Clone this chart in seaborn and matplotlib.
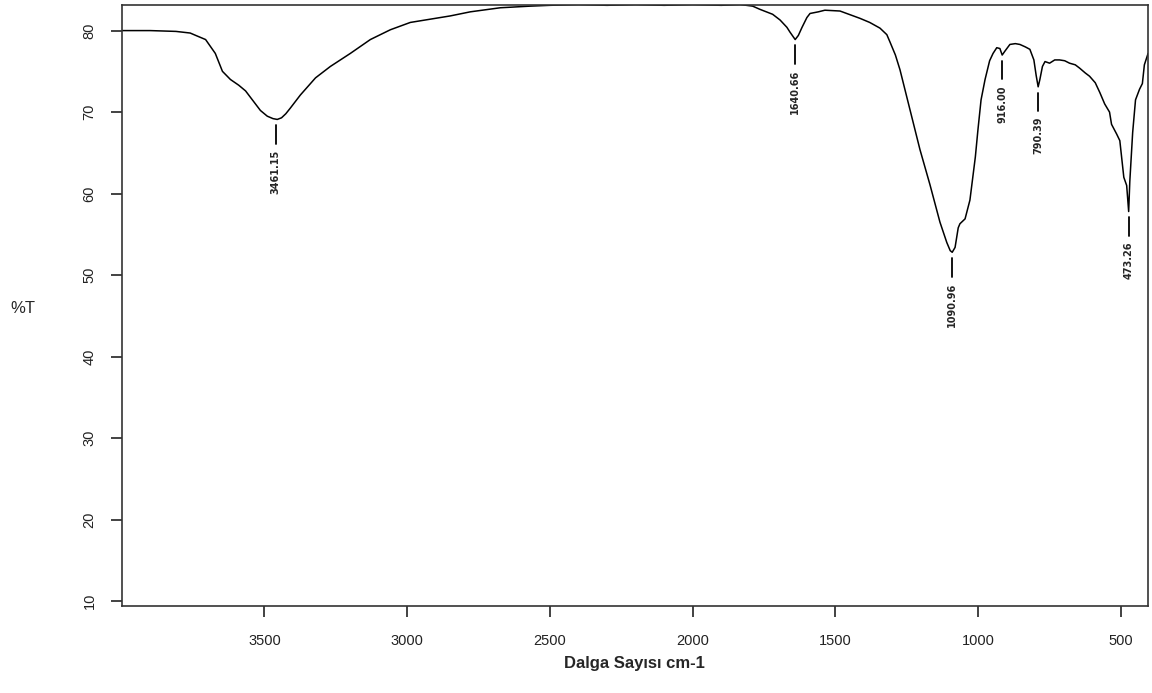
import matplotlib
matplotlib.use("Agg")
import matplotlib.pyplot as plt
import seaborn as sns
import pandas as pd

# FTIR spectrum: wavenumber (cm-1) and transmittance (%T)
wavenumber = [4000, 3900, 3810, 3760, 3740, 3706, 3672, 3647, 3619, 3590, 3566,
              3540, 3514, 3490, 3470, 3455, 3440, 3425, 3409, 3374, 3321, 3269,
              3199, 3129, 3059, 2989, 2919, 2849, 2779, 2674, 2569, 2500, 2400,
              2300, 2200, 2100, 2000, 1900, 1834, 1790, 1764, 1720, 1694, 1670,
              1659, 1641, 1630, 1617, 1600, 1589, 1560, 1537, 1484, 1414, 1380,
              1344, 1320, 1309, 1290, 1274, 1239, 1204, 1169, 1134, 1110, 1098,
              1091, 1081, 1070, 1064, 1046, 1029, 1010, 1001, 990, 976, 960, 948,
              935, 924, 916, 906, 889, 870, 854, 835, 819, 805, 797, 790, 784,
              775, 766, 750, 732, 715, 697, 680, 660, 645, 625, 610, 590, 574,
              557, 540, 533, 515, 504, 490, 480, 473, 469, 459, 449, 435, 425,
              418, 405]
transmittance = [80.0, 80.0, 79.9, 79.7, 79.4, 78.9, 77.2, 75.0, 74.0, 73.3, 72.6,
                 71.4, 70.2, 69.5, 69.2, 69.1, 69.3, 69.8, 70.5, 72.1, 74.2, 75.6,
                 77.2, 78.9, 80.1, 81.0, 81.4, 81.8, 82.3, 82.8, 83.0, 83.1, 83.2,
                 83.1, 83.2, 83.1, 83.2, 83.1, 83.2, 83.0, 82.6, 82.0, 81.3, 80.4,
                 79.8, 78.9, 79.4, 80.4, 81.6, 82.1, 82.3, 82.5, 82.4, 81.5, 81.0,
                 80.3, 79.5, 78.6, 77.0, 75.2, 70.3, 65.4, 61.1, 56.5, 54.0, 53.0,
                 52.8, 53.4, 55.8, 56.3, 56.9, 59.2, 64.5, 67.8, 71.5, 74.0, 76.3,
                 77.2, 77.9, 77.8, 77.0, 77.5, 78.3, 78.4, 78.3, 78.0, 77.7, 76.4,
                 74.5, 73.1, 74.0, 75.6, 76.2, 76.0, 76.4, 76.4, 76.3, 76.0, 75.8,
                 75.4, 74.8, 74.4, 73.6, 72.4, 71.0, 70.0, 68.5, 67.3, 66.5, 62.0,
                 61.0, 57.8, 61.5, 67.5, 71.5, 72.8, 73.5, 75.8, 77.2]

# labelled absorption peaks
peak_wn = [3461.15, 1640.66, 1090.96, 916.00, 790.39, 473.26]
peak_t = [69.1, 78.9, 52.8, 77.0, 73.1, 57.8]
peak_labels = ["3461.15", "1640.66", "1090.96", "916.00", "790.39", "473.26"]

x_ticks = [3500, 3000, 2500, 2000, 1500, 1000, 500]
y_ticks = [10, 20, 30, 40, 50, 60, 70, 80]

sns.set_style("white")
plt.rcParams["font.family"] = ["Liberation Sans", "DejaVu Sans"]

df = pd.DataFrame({"wn": wavenumber, "T": transmittance})

fig = plt.figure(figsize=(11.52, 6.93), dpi=100)
ax = fig.add_axes([0.1056, 0.1255, 0.891, 0.868])

sns.lineplot(data=df, x="wn", y="T", sort=False, estimator=None,
             color="black", linewidth=1.1, ax=ax)

ax.set_xlim(4000, 405)
ax.set_ylim(9.4, 83.2)
ax.set_xticks(x_ticks)
ax.set_yticks(y_ticks)
ax.set_xticklabels([str(v) for v in x_ticks], fontsize=10.5, color="#222222")
ax.set_yticklabels([str(v) for v in y_ticks], fontsize=10.5, color="#222222",
                   rotation=90, va="center")
ax.tick_params(axis="both", direction="out", length=8, width=1.2,
               color="#222222", bottom=True, left=True)
ax.tick_params(axis="x", pad=12)
ax.tick_params(axis="y", pad=10)
for s in ax.spines.values():
    s.set_color("#333333")
    s.set_linewidth(1.2)

ax.set_xlabel("Dalga Sayısı cm-1", fontsize=12, fontweight="bold", labelpad=6)
ax.set_ylabel("")
fig.text(0.009, 0.555, "%T", fontsize=12, ha="left", va="center")

# peak markers: short vertical line under the minimum, then the value
for wn, t, lab in zip(peak_wn, peak_t, peak_labels):
    ax.plot([wn, wn], [t - 0.7, t - 3.0], color="black", linewidth=1.3)
    ax.text(wn, t - 3.7, lab, rotation=90, ha="center", va="top",
            fontsize=7, fontweight="bold", family=["DejaVu Sans"])

fig.savefig("out.png", dpi=100)
